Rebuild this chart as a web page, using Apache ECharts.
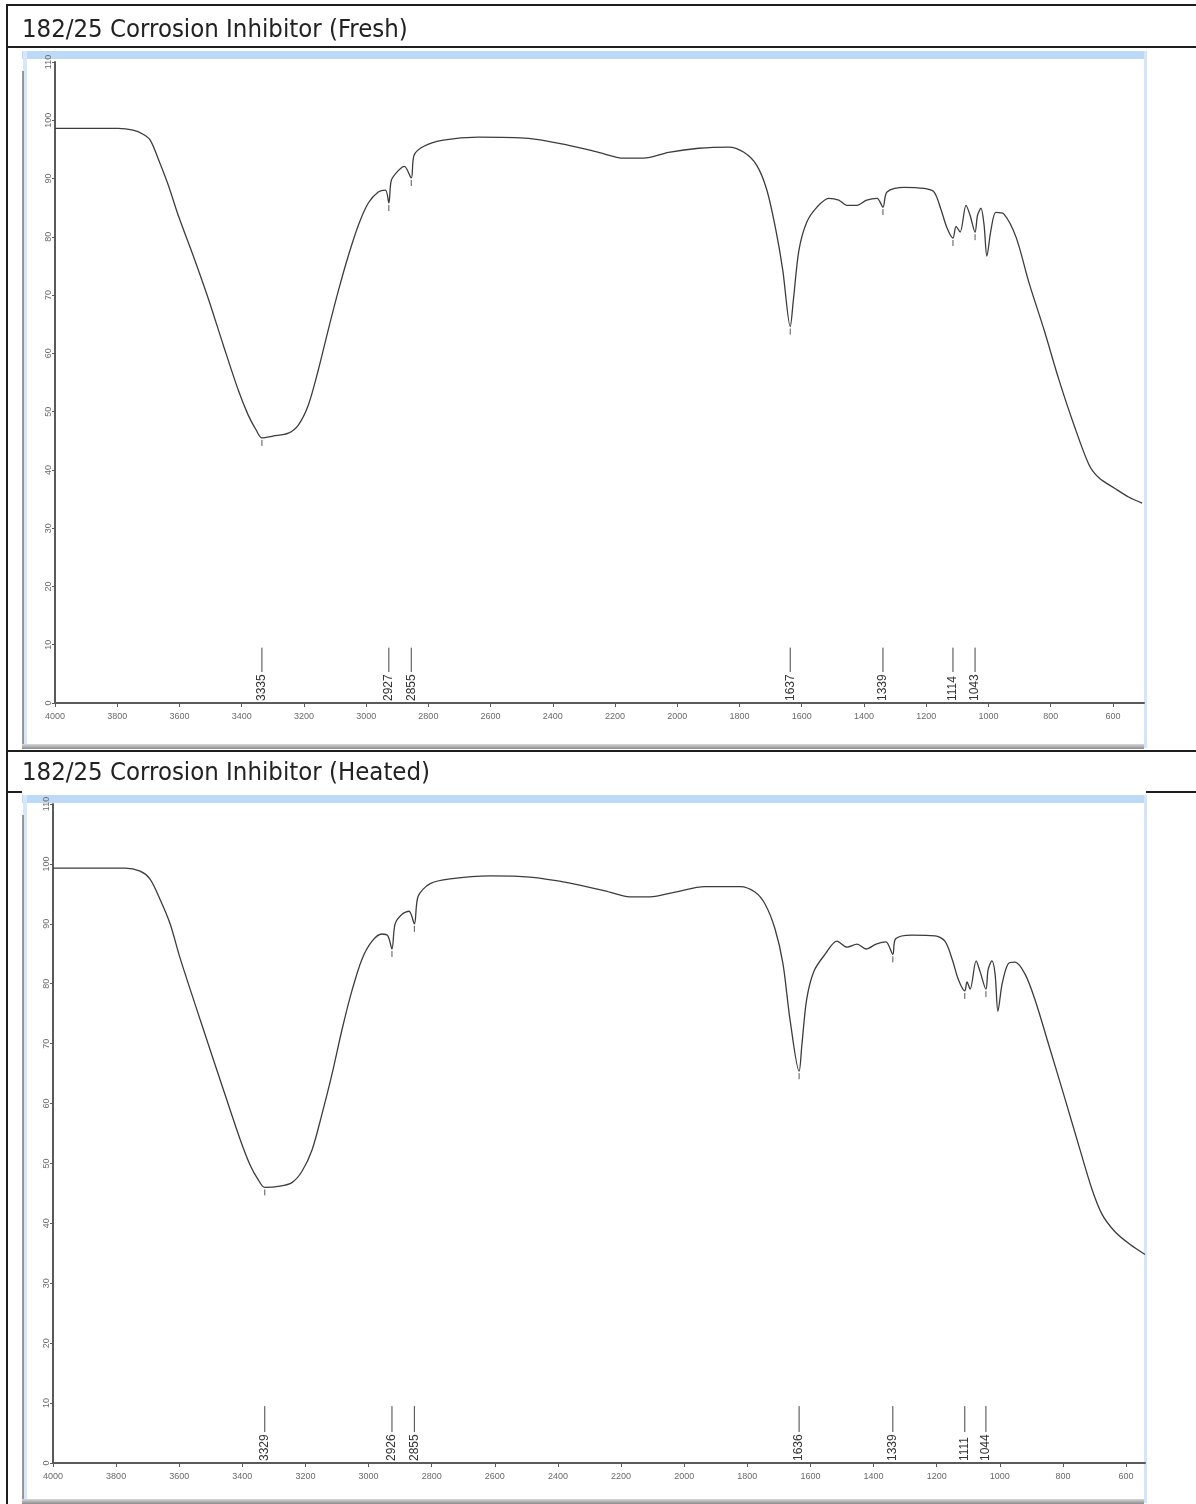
<!DOCTYPE html>
<html>
<head>
<meta charset="utf-8">
<script src="https://cdn.jsdelivr.net/npm/echarts@6/dist/echarts.min.js"></script>
<style>
  html, body { margin: 0; padding: 0; background: #ffffff; }
  #chart { width: 1196px; height: 1504px; }
</style>
</head>
<body>
<div id="chart"></div>
<script>
// Panel headings
const panelTitles = ['182/25 Corrosion Inhibitor (Fresh)', '182/25 Corrosion Inhibitor (Heated)'];

// Axis tick values (wavenumber, cm-1, and %T)
const xTickValues = [4000, 3800, 3600, 3400, 3200, 3000, 2800, 2600, 2400, 2200, 2000, 1800, 1600, 1400, 1200, 1000, 800, 600];
const yTickValues = [0, 10, 20, 30, 40, 50, 60, 70, 80, 90, 100, 110];

// Fresh sample spectrum: [wavenumber, %T]
const freshSpectrum = [
  [4000, 98.6], [3862, 98.6], [3797, 98.6], [3749, 98.3], [3717, 97.6], [3694, 96.6],
  [3669, 93.5], [3636, 88.9], [3604, 83.7], [3556, 76.8], [3508, 69.5], [3459, 61.4],
  [3411, 53.7], [3379, 49.4], [3353, 46.8], [3335, 45.5], [3299, 45.8], [3250, 46.3],
  [3218, 47.7], [3186, 51.1], [3154, 57.1], [3122, 64.0], [3089, 70.8], [3057, 76.8],
  [3025, 82.0], [2993, 85.8], [2961, 87.7], [2938, 88.0], [2927, 85.8], [2919, 89.7],
  [2896, 91.4], [2877, 92.1], [2855, 90.1], [2846, 94.0], [2816, 95.5], [2752, 96.6],
  [2639, 97.1], [2478, 96.9], [2349, 95.7], [2253, 94.5], [2172, 93.5], [2108, 93.5],
  [2028, 94.5], [1931, 95.2], [1835, 95.4], [1786, 94.5], [1745, 92.3], [1712, 88.0],
  [1683, 81.1], [1661, 74.3], [1637, 64.6], [1627, 69.1], [1609, 77.7], [1584, 82.5],
  [1551, 85.1], [1513, 86.6], [1481, 86.3], [1455, 85.4], [1423, 85.4], [1391, 86.3],
  [1358, 86.6], [1339, 85.1], [1326, 87.7], [1272, 88.5], [1207, 88.3], [1175, 87.7],
  [1152, 84.6], [1133, 81.5], [1114, 79.8], [1104, 81.8], [1091, 80.8], [1072, 85.4],
  [1059, 83.7], [1043, 80.8], [1035, 83.7], [1024, 84.9], [1014, 82.0], [1005, 76.7],
  [992, 81.1], [976, 84.2], [950, 83.9], [911, 79.9], [869, 72.0], [821, 64.0],
  [773, 55.4], [725, 47.7], [676, 40.8], [644, 38.6], [596, 36.9], [548, 35.3], [506, 34.3]
];

// Heated sample spectrum: [wavenumber, %T]
const heatedSpectrum = [
  [4000, 99.3], [3851, 99.3], [3772, 99.3], [3724, 98.8], [3693, 97.5], [3661, 94.1],
  [3629, 90.0], [3598, 84.4], [3550, 76.6], [3503, 69.1], [3455, 61.5], [3407, 54.0],
  [3376, 49.8], [3350, 47.3], [3329, 46.0], [3281, 46.2], [3243, 46.8], [3211, 48.7],
  [3179, 52.3], [3148, 58.2], [3116, 64.9], [3084, 72.4], [3053, 78.8], [3021, 84.1],
  [2989, 87.1], [2958, 88.3], [2939, 88.0], [2926, 85.8], [2916, 90.0], [2894, 91.6],
  [2872, 92.1], [2855, 90.0], [2843, 94.6], [2805, 96.7], [2742, 97.5], [2615, 98.0],
  [2489, 97.8], [2362, 96.8], [2251, 95.5], [2172, 94.5], [2108, 94.5], [2029, 95.3],
  [1934, 96.2], [1823, 96.2], [1776, 95.3], [1744, 93.3], [1712, 89.1], [1687, 83.3],
  [1665, 74.1], [1636, 65.4], [1627, 69.9], [1612, 77.4], [1589, 82.1], [1554, 84.9],
  [1516, 87.1], [1484, 86.1], [1452, 86.6], [1424, 85.8], [1392, 86.6], [1361, 87.0],
  [1339, 84.9], [1330, 87.5], [1278, 88.1], [1205, 88.0], [1174, 87.1], [1151, 84.1],
  [1132, 80.8], [1111, 78.8], [1104, 80.3], [1094, 79.1], [1075, 83.8], [1063, 82.1],
  [1044, 79.1], [1037, 82.4], [1025, 83.8], [1015, 81.6], [1006, 75.4], [993, 79.9],
  [974, 83.3], [952, 83.6], [920, 81.6], [889, 77.4], [841, 69.1], [793, 60.7],
  [746, 52.3], [708, 45.7], [676, 41.5], [635, 38.6], [588, 36.5], [540, 34.8]
];

// Picked peaks: [wavenumber (cm-1), %T at the band minimum]
const freshPeaks = [[3335, 45.5], [2927, 85.8], [2855, 90.1], [1637, 64.6], [1339, 85.1], [1114, 79.8], [1043, 80.8]];
const heatedPeaks = [[3329, 46.0], [2926, 85.8], [2855, 90.0], [1636, 65.4], [1339, 84.9], [1111, 78.8], [1044, 79.1]];

// Wavenumber span of each spectrum window
const freshRange = [500, 4000];
const heatedRange = [540, 4000];

const AXIS_COLOR = '#5a5a5a';
const LABEL_COLOR = '#6a6a6a';
const CURVE_COLOR = '#3c3c3c';

function makeXAxis(gridIndex, range) {
  return {
    type: 'value', gridIndex, inverse: true, min: range[0], max: range[1],
    axisLine: { show: true, lineStyle: { color: AXIS_COLOR, width: 2 } },
    axisTick: { show: true, length: 4, customValues: xTickValues, lineStyle: { color: AXIS_COLOR, width: 1 } },
    axisLabel: { customValues: xTickValues, fontSize: 9, color: LABEL_COLOR, margin: 9,
                 fontFamily: 'Liberation Sans', formatter: v => String(v) },
    splitLine: { show: false }
  };
}

function makeYAxis(gridIndex) {
  return {
    type: 'value', gridIndex, min: 0, max: 110, interval: 10,
    axisLine: { show: true, lineStyle: { color: AXIS_COLOR, width: 2 } },
    axisTick: { show: true, length: 3, customValues: yTickValues, lineStyle: { color: AXIS_COLOR, width: 1 } },
    axisLabel: { customValues: yTickValues, rotate: 90, fontSize: 9, color: LABEL_COLOR, margin: 2,
                 fontFamily: 'Liberation Sans', formatter: v => String(v) },
    splitLine: { show: false }
  };
}

// Peak pick markers: a short stem above the baseline with the wavenumber written upward,
// plus a small tick just under the band minimum on the curve
function peakSeries(peaks, index) {
  return {
    type: 'custom', xAxisIndex: index, yAxisIndex: index, silent: true,
    data: peaks,
    renderItem(params, api) {
      const w = api.value(0);
      const dip = api.coord([w, api.value(1)]);
      const top = api.coord([w, 9.5]);
      const base = api.coord([w, 0]);
      return {
        type: 'group',
        children: [
          { type: 'line', shape: { x1: top[0], y1: top[1], x2: top[0], y2: base[1] - 31 },
            style: { stroke: '#444', lineWidth: 1 } },
          { type: 'line', shape: { x1: dip[0], y1: dip[1] + 2, x2: dip[0], y2: dip[1] + 8 },
            style: { stroke: '#555', lineWidth: 1 } },
          { type: 'text', x: top[0], y: base[1] - 2, rotation: Math.PI / 2,
            style: { text: String(w), align: 'left', verticalAlign: 'middle',
                     fontSize: 12, fill: '#333', fontFamily: 'Liberation Sans' } }
        ]
      };
    }
  };
}

function spectrumSeries(data, index) {
  return {
    type: 'line', xAxisIndex: index, yAxisIndex: index, data,
    showSymbol: false, smooth: 0.3, silent: true,
    lineStyle: { color: CURVE_COLOR, width: 1.3 }
  };
}

// Page frame: table rules, headings and the window borders of each spectrum
const BLUE = '#bcd9f7';
const RULE = '#1e1e1e';
function hLine(x1, x2, y, w) {
  return { type: 'line', shape: { x1, y1: y, x2, y2: y }, style: { stroke: RULE, lineWidth: w || 2 }, silent: true };
}
function vLine(x, y1, y2, color, w) {
  return { type: 'line', shape: { x1: x, y1, x2: x, y2 }, style: { stroke: color || RULE, lineWidth: w || 2 }, silent: true };
}
function windowFrame(top, bottom) {
  return [
    { type: 'rect', shape: { x: 22, y: top, width: 1124, height: 8 }, style: { fill: BLUE }, silent: true },
    { type: 'rect', shape: { x: 23, y: top, width: 4, height: bottom - top }, style: { fill: '#d6e7fa' }, silent: true },
    vLine(23, top + 20, bottom, '#7a7a7a', 1.5),
    { type: 'rect', shape: { x: 1144, y: top, width: 3, height: bottom - top }, style: { fill: '#d3e5f8' }, silent: true },
    { type: 'rect', shape: { x: 22, y: bottom - 4, width: 1122, height: 5 },
      style: { fill: new echarts.graphic.LinearGradient(0, 0, 0, 1, [
        { offset: 0, color: '#d8d8d8' }, { offset: 1, color: '#8c8c8c' }]) }, silent: true }
  ];
}

const TITLE_FONT = '"Liberation Sans Narrow", "DejaVu Sans Condensed", Roboto, sans-serif';
const graphics = [
  ...windowFrame(51, 748),
  ...windowFrame(795, 1503),
  hLine(7, 1196, 5),
  hLine(7, 1196, 47),
  hLine(7, 1196, 751),
  hLine(7, 22, 792),
  hLine(1146, 1196, 792),
  vLine(7, 4, 1504),
  { type: 'text', x: 22, y: 30, silent: true,
    style: { text: panelTitles[0], fontSize: 25.5, fill: '#222', verticalAlign: 'middle', fontFamily: TITLE_FONT } },
  { type: 'text', x: 22, y: 773, silent: true,
    style: { text: panelTitles[1], fontSize: 25.5, fill: '#222', verticalAlign: 'middle', fontFamily: TITLE_FONT } }
];

const chart = echarts.init(document.getElementById('chart'), null, { renderer: 'canvas' });
chart.setOption({
  backgroundColor: '#ffffff',
  animation: false,
  grid: [
    { left: 55, top: 62, width: 1089, height: 641, outerBoundsMode: 'none' },
    { left: 53, top: 804, width: 1092, height: 659, outerBoundsMode: 'none' }
  ],
  xAxis: [makeXAxis(0, freshRange), makeXAxis(1, heatedRange)],
  yAxis: [makeYAxis(0), makeYAxis(1)],
  series: [
    spectrumSeries(freshSpectrum, 0),
    spectrumSeries(heatedSpectrum, 1),
    peakSeries(freshPeaks, 0),
    peakSeries(heatedPeaks, 1)
  ],
  graphic: graphics
});
</script>
</body>
</html>
